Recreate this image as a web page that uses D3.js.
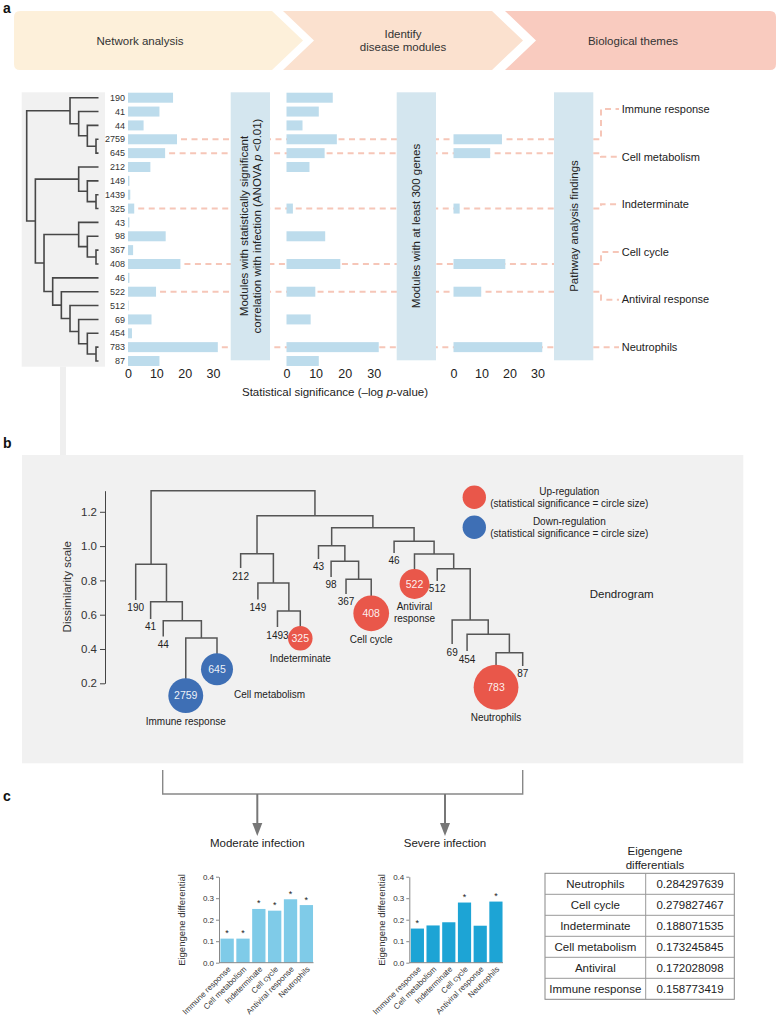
<!DOCTYPE html>
<html>
<head>
<meta charset="utf-8">
<script src="https://cdn.jsdelivr.net/npm/d3@7/dist/d3.min.js"></script>
<style>
  body { margin: 0; background: #fff; }
  svg text { font-family: "Liberation Sans", Arial, Helvetica, sans-serif; }
</style>
</head>
<body>
<div id="fig"></div>
<script>
// ---------- data ----------
var stages = [["Network analysis"], ["Identify", "disease modules"], ["Biological themes"]];

// panel a: modules in dendrogram order and their -log p-value
var modules = ["190", "41", "44", "2759", "645", "212", "149", "1439", "325", "43",
               "98", "367", "408", "46", "522", "512", "69", "454", "783", "87"];
var significance = [15.9, 11.1, 5.5, 17.3, 13.1, 7.9, 0.5, 0.8, 2.2, 0.5,
                    13.3, 1.8, 18.5, 0.5, 9.9, 0.2, 8.3, 1.4, 31.7, 11.1];
var anovaModules = ["190", "41", "44", "2759", "645", "212", "325", "98", "408", "522", "69", "783", "87"];
var largeModules = ["2759", "645", "325", "408", "522", "783"];
var themes = ["Immune response", "Cell metabolism", "Indeterminate", "Cell cycle", "Antiviral response", "Neutrophils"];
var themeDirection = ["down", "down", "up", "up", "up", "up"];
var sigTicks = [0, 10, 20, 30];
var treeA = [["190", ["41", ["44", ["2759", "645"]]]],
             [["212", ["149", ["1439", "325"]]],
              [["43", ["98", ["367", "408"]]],
               ["46", ["522", ["512", ["69", ["454", ["783", "87"]]]]]]]]];
var boxTexts = [["Modules with statistically significant", "correlation with infection (ANOVA p <0.01)"],
                ["Modules with at least 300 genes"],
                ["Pathway analysis findings"]];

// panel b: dendrogram with dissimilarity heights
var leavesB = ["190", "41", "44", "2759", "645", "212", "149", "1493", "325", "43",
               "98", "367", "408", "46", "522", "512", "69", "454", "783", "87"];
var leafEndB = [0.686, 0.575, 0.473, 0.128, 0.282, 0.872, 0.689, 0.528, 0.462, 0.925,
                0.820, 0.721, 0.608, 0.960, 0.779, 0.797, 0.429, 0.388, 0.177, 0.301];
var treeB = {h: 1.323, c: [
  {h: 0.894, c: ["190", {h: 0.676, c: ["41", {h: 0.565, c: ["44", {h: 0.464, c: ["2759", "645"]}]}]}]},
  {h: 1.177, c: [
    {h: 0.956, c: ["212", {h: 0.785, c: ["149", {h: 0.622, c: ["1493", "325"]}]}]},
    {h: 1.107, c: [
      {h: 1.002, c: ["43", {h: 0.911, c: ["98", {h: 0.806, c: ["367", "408"]}]}]},
      {h: 1.028, c: ["46", {h: 0.954, c: ["522", {h: 0.868, c: ["512",
        {h: 0.569, c: ["69", {h: 0.486, c: ["454", {h: 0.378, c: ["783", "87"]}]}]}]}]}]}
    ]}
  ]}
]};
var dissimTicks = [0.2, 0.4, 0.6, 0.8, 1.0, 1.2];
var legendItems = ["Up-regulation", "Down-regulation"];

// panel c
var infectionGroups = ["Moderate infection", "Severe infection"];
var moderateValues = [0.112, 0.112, 0.25, 0.242, 0.295, 0.268];
var moderateStars = [1, 1, 1, 1, 1, 1];
var severeStars = [1, 0, 0, 1, 0, 1];
var eigenTicks = [0, 0.1, 0.2, 0.3, 0.4];
var tableNames = ["Neutrophils", "Cell cycle", "Indeterminate", "Cell metabolism", "Antiviral", "Immune response"];
var tableValues = ["0.284297639", "0.279827467", "0.188071535", "0.173245845", "0.172028098", "0.158773419"];
var tableThemes = ["Neutrophils", "Cell cycle", "Indeterminate", "Cell metabolism", "Antiviral response", "Immune response"];
var severeValues = themes.map(function (t) { return +tableValues[tableThemes.indexOf(t)]; });

// ---------- setup ----------
var svg = d3.select("#fig").append("svg").attr("width", 778).attr("height", 1018);
var red = "#e9574a", blue = "#3e6fb5", pink = "#f6c6b8", boxBlue = "#d4e6ef", barBlue = "#bddcec";
var sigOf = function (m) { return significance[modules.indexOf(m)]; };

function multiLine(sel, lines, x, lh) {
  lines.forEach(function (l, k) {
    sel.append("tspan").attr("x", x)
      .attr("dy", (k === 0 ? (-(lines.length - 1) / 2 * lh + 0.35) : lh) + "em")
      .text(l);
  });
}

[["a", 13], ["b", 448], ["c", 801]].forEach(function (p) {
  svg.append("text").attr("x", 3).attr("y", p[1]).text(p[0])
    .attr("font-size", 14).attr("font-weight", "bold").attr("fill", "#111");
});

// ---------- banner ----------
var bannerColors = ["#fdf0da", "#fbe1cf", "#f9cbbf"];
var bTop = 11, bBot = 70, bMid = (bTop + bBot) / 2, tipW = 31, rad = 6;
var bannerX = [[14, 272], [283, 492], [505, 776]];
var bannerTextX = [140, 403, 633];
var banner = svg.append("g");
banner.selectAll("path").data(stages).join("path")
  .attr("d", function (d, i) {
    var x0 = bannerX[i][0], x1 = bannerX[i][1], p = d3.path();
    p.moveTo(i === 0 ? x0 + rad : x0, bTop);
    if (i < stages.length - 1) {
      p.lineTo(x1, bTop); p.lineTo(x1 + tipW, bMid); p.lineTo(x1, bBot);
    } else {
      p.lineTo(x1 - rad, bTop); p.quadraticCurveTo(x1, bTop, x1, bTop + rad);
      p.lineTo(x1, bBot - rad); p.quadraticCurveTo(x1, bBot, x1 - rad, bBot);
    }
    if (i === 0) {
      p.lineTo(x0 + rad, bBot); p.quadraticCurveTo(x0, bBot, x0, bBot - rad);
      p.lineTo(x0, bTop + rad); p.quadraticCurveTo(x0, bTop, x0 + rad, bTop);
    } else {
      p.lineTo(x0, bBot); p.lineTo(x0 + tipW, bMid);
    }
    p.closePath();
    return p.toString();
  })
  .attr("fill", function (d, i) { return bannerColors[i]; });
banner.selectAll("text").data(stages).join("text")
  .attr("y", bMid).attr("text-anchor", "middle").attr("font-size", 11.5).attr("fill", "#333")
  .each(function (d, i) { multiLine(d3.select(this), d, bannerTextX[i], 1.2); });

// ---------- panel a ----------
var gA = svg.append("g");
gA.append("rect").attr("x", 21.7).attr("y", 92.3).attr("width", 83.3).attr("height", 274.4).attr("fill", "#f1f1f1");
gA.append("rect").attr("x", 60).attr("y", 366.7).attr("width", 6).attr("height", 90).attr("fill", "#efefef");

var rowY = d3.scalePoint().domain(modules).range([97.7, 361]);
var rootA = d3.hierarchy(treeA, function (d) { return Array.isArray(d) ? d : null; });
var levelX = d3.scaleLinear().domain([1, 9]).range([96, 26.7]);
rootA.eachAfter(function (n) {
  if (!n.children) { n.px = 98.5; n.py = rowY(n.data); }
  else { n.px = levelX(n.height); n.py = (n.children[0].py + n.children[1].py) / 2; }
});
gA.selectAll("path.dA").data(rootA.descendants().filter(function (n) { return n.children; }))
  .join("path").attr("class", "dA")
  .attr("d", function (n) {
    var a = n.children[0], b = n.children[1];
    return "M" + a.px + "," + a.py + "H" + n.px + "V" + b.py + "H" + b.px;
  })
  .attr("fill", "none").attr("stroke", "#474747").attr("stroke-width", 1.6);

gA.selectAll("text.row").data(modules).join("text").attr("class", "row")
  .attr("x", 125).attr("y", function (d) { return rowY(d); }).attr("dy", "0.35em")
  .attr("text-anchor", "end").attr("font-size", 9).attr("fill", "#333").text(function (d) { return d; });

var sigCharts = [
  {mods: modules, x: d3.scaleLinear().domain([0, 30]).range([128, 213])},
  {mods: anovaModules, x: d3.scaleLinear().domain([0, 30]).range([286.5, 373.8])},
  {mods: largeModules, x: d3.scaleLinear().domain([0, 30]).range([453.5, 537.5])}
];
var boxX = [[230.7, 270], [396.7, 436], [554, 593.3]];

// dashed links behind bars and boxes
gA.selectAll("line.link").data(largeModules).join("line").attr("class", "link")
  .attr("x1", function (m) { return sigCharts[0].x(sigOf(m)) + 4; })
  .attr("x2", boxX[2][0])
  .attr("y1", function (m) { return rowY(m); }).attr("y2", function (m) { return rowY(m); })
  .attr("stroke", pink).attr("stroke-width", 2).attr("stroke-dasharray", "6,4.5");

sigCharts.forEach(function (c) {
  gA.append("g").selectAll("rect").data(c.mods).join("rect")
    .attr("x", c.x(0)).attr("y", function (m) { return rowY(m) - 5; })
    .attr("width", function (m) { return c.x(sigOf(m)) - c.x(0); }).attr("height", 10)
    .attr("fill", barBlue);
  var ax = gA.append("g").attr("transform", "translate(0,369)")
    .call(d3.axisBottom(c.x).tickValues(sigTicks).tickSize(0).tickPadding(0));
  ax.select(".domain").remove();
  ax.selectAll("text").attr("font-size", 12.5).attr("fill", "#222").attr("dy", "0.71em");
});

boxTexts.forEach(function (lines, i) {
  var x0 = boxX[i][0], x1 = boxX[i][1];
  gA.append("rect").attr("x", x0).attr("y", 92.3).attr("width", x1 - x0).attr("height", 268).attr("fill", boxBlue);
  var t = gA.append("text").attr("transform", "translate(" + ((x0 + x1) / 2) + ",226) rotate(-90)")
    .attr("text-anchor", "middle").attr("font-size", 11.5).attr("fill", "#222");
  lines.forEach(function (l, k) {
    var ts = t.append("tspan").attr("x", 0)
      .attr("dy", (k === 0 ? (-(lines.length - 1) / 2 * 1.15 + 0.35) : 1.15) + "em");
    if (l.indexOf(" p ") > 0) {
      var parts = l.split(" p ");
      ts.append("tspan").text(parts[0] + " ");
      ts.append("tspan").attr("font-style", "italic").text("p");
      ts.append("tspan").text(" " + parts[1]);
    } else { ts.text(l); }
  });
});

// connectors to biological themes
var themeY = d3.scalePoint().domain(themes).range([109, 347.3]);
gA.selectAll("path.theme").data(largeModules).join("path").attr("class", "theme")
  .attr("d", function (m, i) { return "M" + boxX[2][1] + "," + rowY(m) + "H601V" + themeY(themes[i]) + "H619"; })
  .attr("fill", "none").attr("stroke", pink).attr("stroke-width", 2).attr("stroke-dasharray", "6,4.5");
gA.selectAll("text.theme").data(themes).join("text").attr("class", "theme")
  .attr("x", 621.7).attr("y", function (t) { return themeY(t); }).attr("dy", "0.35em")
  .attr("font-size", 11).attr("fill", "#222").text(function (t) { return t; });

var st = gA.append("text").attr("x", 335).attr("y", 392).attr("dy", "0.35em")
  .attr("text-anchor", "middle").attr("font-size", 11.5).attr("fill", "#222");
st.append("tspan").text("Statistical significance (\u2013log ");
st.append("tspan").attr("font-style", "italic").text("p");
st.append("tspan").text("-value)");

// ---------- panel b ----------
var gB = svg.append("g");
gB.append("rect").attr("x", 22).attr("y", 455).attr("width", 721.3).attr("height", 308.3).attr("fill", "#f1f1f1");
var yB = d3.scaleLinear().domain([0.2, 1.323]).range([683.3, 490.7]);
var axB = gB.append("g").attr("transform", "translate(105,0)")
  .call(d3.axisLeft(yB).tickValues(dissimTicks).tickSize(5).tickSizeOuter(0).tickPadding(3).tickFormat(d3.format(".1f")));
axB.selectAll("text").attr("font-size", 11.5).attr("fill", "#333");
axB.selectAll("line, path").attr("stroke", "#444");
gB.append("text").attr("transform", "translate(66.7,586.7) rotate(-90)").attr("text-anchor", "middle")
  .attr("dy", "0.35em").attr("font-size", 11.5).attr("fill", "#333").text("Dissimilarity scale");

// leaf spacing from each leaf's footprint: label width, or circle diameter
var rScale = d3.scaleLinear().domain([0, 32]).range([11.5, 22.5]);
var leafW = leavesB.map(function (m) {
  return largeModules.indexOf(m) >= 0 ? 2 * rScale(sigOf(m)) + 4 : m.length * 5.56 + 4;
});
var leafPos = [0];
for (var k = 1; k < leavesB.length; k++) {
  leafPos.push(leafPos[k - 1] + (leafW[k - 1] + leafW[k]) / 2);
}
var xB = d3.scaleLinear().domain([0, leafPos[leafPos.length - 1]]).range([135.7, 522.7]);

var rootB = d3.hierarchy(treeB, function (d) { return d.c; });
rootB.eachAfter(function (n) {
  if (!n.children) { var j = leavesB.indexOf(n.data); n.px = xB(leafPos[j]); n.py = yB(leafEndB[j]); }
  else { n.px = (n.children[0].px + n.children[1].px) / 2; n.py = yB(n.data.h); }
});
gB.selectAll("path.dB").data(rootB.descendants().filter(function (n) { return n.children; }))
  .join("path").attr("class", "dB")
  .attr("d", function (n) {
    var a = n.children[0], b = n.children[1];
    return "M" + a.px + "," + a.py + "V" + n.py + "H" + b.px + "V" + b.py;
  })
  .attr("fill", "none").attr("stroke", "#555").attr("stroke-width", 1.5);

var leafNodes = rootB.leaves();
var plainLeaves = leafNodes.filter(function (n) { return largeModules.indexOf(n.data) < 0; });
var circleLeaves = leafNodes.filter(function (n) { return largeModules.indexOf(n.data) >= 0; });

gB.selectAll("text.leaf").data(plainLeaves).join("text").attr("class", "leaf")
  .attr("x", function (n) { return n.px; }).attr("y", function (n) { return n.py + 8; }).attr("dy", "0.35em")
  .attr("text-anchor", "middle").attr("font-size", 10).attr("fill", "#222").text(function (n) { return n.data; });

circleLeaves.forEach(function (n) {
  var i = largeModules.indexOf(n.data), r = rScale(sigOf(n.data));
  gB.append("circle").attr("cx", n.px).attr("cy", n.py).attr("r", r)
    .attr("fill", themeDirection[i] === "up" ? red : blue);
  gB.append("text").attr("x", n.px).attr("y", n.py).attr("dy", "0.35em").attr("text-anchor", "middle")
    .attr("font-size", 10.5).attr("fill", "#fff").attr("fill-opacity", 0.92).text(n.data);
  var words = themes[i] === "Antiviral response" ? ["Antiviral", "response"] : [themes[i]];
  var lab = gB.append("text").attr("font-size", 10).attr("fill", "#222");
  if (themes[i] === "Cell metabolism") {
    lab.attr("x", n.px + r + 1).attr("y", n.py + r + 9).attr("dy", "0.35em").text(themes[i]);
  } else {
    lab.attr("text-anchor", "middle").attr("y", n.py + r + 8 + (words.length - 1) * 6);
    multiLine(lab, words, n.px, 1.2);
  }
});

// legend
legendItems.forEach(function (l, i) {
  var cy = 497.3 + i * 30;
  gB.append("circle").attr("cx", 474.3).attr("cy", cy).attr("r", 11.7).attr("fill", i === 0 ? red : blue);
  var t = gB.append("text").attr("y", cy).attr("text-anchor", "middle").attr("font-size", 10).attr("fill", "#222");
  multiLine(t, [l, "(statistical significance = circle size)"], 569.3, 1.2);
});
gB.append("text").attr("x", 621.7).attr("y", 594).attr("dy", "0.35em").attr("text-anchor", "middle")
  .attr("font-size", 11.5).attr("fill", "#222").text("Dendrogram");

// ---------- panel c ----------
var gC = svg.append("g");
gC.append("path").attr("d", "M162.7,770V794H522.7V770").attr("fill", "none").attr("stroke", "#888").attr("stroke-width", 1.4);
var groupX = [257.3, 445];
infectionGroups.forEach(function (g, i) {
  var x = groupX[i];
  gC.append("line").attr("x1", x).attr("x2", x).attr("y1", 794).attr("y2", 826).attr("stroke", "#777").attr("stroke-width", 2);
  gC.append("path").attr("d", "M" + (x - 5) + ",823L" + (x + 5) + ",823L" + x + ",836Z").attr("fill", "#777");
  gC.append("text").attr("x", x).attr("y", 843.3).attr("dy", "0.35em").attr("text-anchor", "middle")
    .attr("font-size", 11.5).attr("fill", "#222").text(g);
});

function eigenChart(values, stars, left, right, color, labelX) {
  var g = gC.append("g");
  var x = d3.scaleBand().domain(themes).range([left + 1, right]).paddingInner(0.16).paddingOuter(0.03);
  var y = d3.scaleLinear().domain([0, 0.4]).range([962.7, 876.7]);
  g.selectAll("rect").data(themes).join("rect")
    .attr("x", function (d) { return x(d); }).attr("width", x.bandwidth())
    .attr("y", function (d, i) { return y(values[i]); })
    .attr("height", function (d, i) { return y(0) - y(values[i]); })
    .attr("fill", color);
  g.selectAll("text.star").data(themes.filter(function (d, i) { return stars[i]; })).join("text").attr("class", "star")
    .attr("x", function (d) { return x(d) + x.bandwidth() / 2; })
    .attr("y", function (d) { return y(values[themes.indexOf(d)]) - 2.5; })
    .attr("text-anchor", "middle").attr("font-size", 9).attr("fill", "#222").text("*");
  var ya = g.append("g").attr("transform", "translate(" + left + ",0)")
    .call(d3.axisLeft(y).tickValues(eigenTicks).tickSize(3).tickSizeOuter(0).tickPadding(2).tickFormat(d3.format(".1f")));
  ya.selectAll("text").attr("font-size", 8).attr("fill", "#333");
  ya.selectAll("line, path").attr("stroke", "#888");
  var xa = g.append("g").attr("transform", "translate(0," + y(0) + ")")
    .call(d3.axisBottom(x).tickSize(0).tickSizeOuter(0));
  xa.select(".domain").attr("d", "M" + left + ",0H" + right).attr("stroke", "#888");
  xa.selectAll("text").attr("x", 0).attr("y", 0).attr("dy", 0)
    .attr("text-anchor", "end").attr("transform", "translate(4,7) rotate(-45)")
    .attr("font-size", 8).attr("fill", "#333");
  g.append("text").attr("transform", "translate(" + labelX + ",920) rotate(-90)")
    .attr("text-anchor", "middle").attr("dy", "0.35em").attr("font-size", 9.5).attr("fill", "#333")
    .text("Eigengene differential");
}
eigenChart(moderateValues, moderateStars, 219, 313.5, "#7fcbe8", 181.7);
eigenChart(severeValues, severeStars, 409.3, 503, "#1da4d5", 381.7);

// table
var tRows = d3.scaleBand().domain(tableNames).range([873.3, 999.3]);
var tCols = [545, 645.7, 734.3];
var tb = gC.append("g");
tb.append("text").attr("y", 858).attr("text-anchor", "middle").attr("font-size", 11.5).attr("fill", "#222")
  .call(function (t) { multiLine(t, ["Eigengene", "differentials"], 655, 1.15); });
tb.append("rect").attr("x", tCols[0]).attr("y", 873.3).attr("width", tCols[2] - tCols[0]).attr("height", 126)
  .attr("fill", "#fff").attr("stroke", "#888");
tb.selectAll("line.rowline").data(tableNames.slice(1)).join("line").attr("class", "rowline")
  .attr("x1", tCols[0]).attr("x2", tCols[2])
  .attr("y1", function (d) { return tRows(d); }).attr("y2", function (d) { return tRows(d); })
  .attr("stroke", "#999");
tb.append("line").attr("x1", tCols[1]).attr("x2", tCols[1]).attr("y1", 873.3).attr("y2", 999.3).attr("stroke", "#999");
tb.selectAll("text.name").data(tableNames).join("text").attr("class", "name")
  .attr("x", (tCols[0] + tCols[1]) / 2).attr("y", function (d) { return tRows(d) + tRows.bandwidth() / 2; })
  .attr("dy", "0.35em").attr("text-anchor", "middle").attr("font-size", 11.5).attr("fill", "#222").text(function (d) { return d; });
tb.selectAll("text.val").data(tableValues).join("text").attr("class", "val")
  .attr("x", (tCols[1] + tCols[2]) / 2).attr("y", function (d, i) { return tRows(tableNames[i]) + tRows.bandwidth() / 2; })
  .attr("dy", "0.35em").attr("text-anchor", "middle").attr("font-size", 11.5).attr("fill", "#222").text(function (d) { return d; });
</script>
</body>
</html>
